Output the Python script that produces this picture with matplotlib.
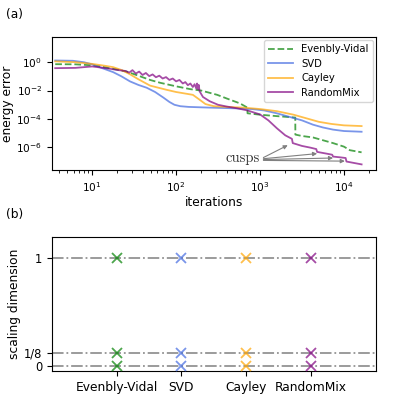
import numpy as np
import matplotlib
matplotlib.use("Agg")
import matplotlib.pyplot as plt
from matplotlib.ticker import NullLocator

# ---------------- data (log10 of iterations, log10 of energy error) ----------------
ev_logit = [0.56, 0.8, 1.0, 1.1, 1.2, 1.3, 1.42, 1.55, 1.69, 1.81, 2.0, 2.17, 2.3, 2.49, 2.6,
            2.76, 2.85, 2.851, 3.0, 3.2, 3.42, 3.421, 3.5, 3.63, 3.75, 3.87, 4.0, 4.07, 4.21]
ev_logerr = [-0.14, -0.15, -0.22, -0.3, -0.42, -0.52, -0.68, -0.95, -1.25, -1.45, -1.7, -1.9, -2.0,
             -2.3, -2.55, -2.9, -3.2, -3.6, -3.7, -3.8, -3.9, -5.1, -5.2, -5.3, -5.5, -5.7, -5.95,
             -6.2, -6.35]

svd_logit = [0.56, 0.77, 0.9, 1.0, 1.12, 1.25, 1.35, 1.45, 1.55, 1.65, 1.75, 1.85, 1.92, 1.98,
             2.05, 2.15, 2.4, 2.7, 2.9, 3.05, 3.2, 3.35, 3.5, 3.63, 3.75, 3.87, 4.0, 4.21]
svd_logerr = [0.12, 0.1, 0.0, -0.15, -0.42, -0.7, -1.0, -1.35, -1.6, -1.8, -2.1, -2.5, -2.8, -3.0,
              -3.1, -3.15, -3.2, -3.25, -3.3, -3.4, -3.6, -3.85, -4.1, -4.4, -4.6, -4.75, -4.85,
              -4.9]

cay_logit = [0.56, 0.8, 1.0, 1.15, 1.25, 1.35, 1.45, 1.55, 1.69, 1.89, 2.0, 2.2, 2.27, 2.35,
             2.45, 2.6, 2.8, 3.0, 3.2, 3.4, 3.55, 3.7, 3.85, 4.0, 4.21]
cay_logerr = [0.06, 0.0, -0.12, -0.25, -0.35, -0.55, -0.85, -1.2, -1.65, -1.95, -2.1, -2.3, -2.6,
              -2.95, -3.1, -3.15, -3.2, -3.3, -3.45, -3.7, -3.95, -4.2, -4.35, -4.45, -4.5]

rm_logit = [0.56, 0.8, 1.0, 1.2, 1.3, 1.40, 1.44, 1.48, 1.52, 1.56, 1.60, 1.64, 1.68, 1.72, 1.76,
            1.80, 1.84, 1.88, 1.92, 1.96, 2.00, 2.04, 2.08, 2.11, 2.14, 2.17, 2.20, 2.22, 2.24,
            2.25, 2.26, 2.27, 2.28, 2.32, 2.4, 2.5, 2.6, 2.73, 2.85, 3.0, 3.1, 3.2, 3.3, 3.38,
            3.39, 3.5, 3.6, 3.67, 3.68, 3.8, 3.86, 3.87, 3.95, 4.02, 4.03, 4.12, 4.21]
rm_logerr = [-0.42, -0.4, -0.3, -0.45, -0.55, -0.62, -0.74, -0.56, -0.8, -0.66, -0.9, -0.76,
             -0.98, -0.86, -1.06, -0.95, -1.15, -1.05, -1.25, -1.15, -1.35, -1.25, -1.5, -1.4,
             -1.62, -1.5, -1.75, -1.55, -1.85, -1.5, -1.9, -1.6, -2.05, -2.45, -2.75, -3.0,
             -3.12, -3.25, -3.4, -3.68, -4.1, -4.65, -5.15, -5.4, -5.7, -5.9, -6.02, -6.12,
             -6.32, -6.45, -6.52, -6.65, -6.7, -6.75, -7.0, -7.1, -7.2]

# cusp arrow tips (iterations, error) and arrow starts
cusp_tip_logit = [3.33, 3.68, 3.87, 4.01]
cusp_tip_logerr = [-5.85, -6.44, -6.75, -6.97]
cusp_start_logerr = [-6.72, -6.8, -6.86, -6.92]

# ---------------- scaling dimensions ----------------
methods = ["Evenbly-Vidal", "SVD", "Cayley", "RandomMix"]
scaling_dims = [[0.0, 0.125, 1.0]] * 4
exact_dims = [0.0, 0.125, 1.0]
exact_labels = ["0", "1/8", "1"]

colors = ["green", "royalblue", "orange", "purple"]
alpha = 0.7

# ---------------- figure ----------------
fig = plt.figure(figsize=(3.99, 4.03), dpi=100)
ax1 = fig.add_axes([0.130, 0.578, 0.812, 0.330])
ax2 = fig.add_axes([0.130, 0.0794, 0.812, 0.3325])

LAB = 8.8
TCK = 7.6

series = [(ev_logit, ev_logerr, "--"), (svd_logit, svd_logerr, "-"),
          (cay_logit, cay_logerr, "-"), (rm_logit, rm_logerr, "-")]
for (lx, ly, ls), c, name in zip(series, colors, methods):
    ax1.plot(10 ** np.array(lx), 10 ** np.array(ly), ls, color=c, alpha=alpha, lw=1.3,
             label=name)

ax1.set_xscale("log")
ax1.set_yscale("log")
ax1.set_xlim(10 ** 0.52, 10 ** 4.38)
ax1.set_ylim(10 ** -7.6, 10 ** 1.77)
ax1.set_yticks([1e0, 1e-2, 1e-4, 1e-6])
ax1.yaxis.set_minor_locator(NullLocator())
ax1.set_xlabel("iterations", fontsize=LAB, labelpad=2)
ax1.set_ylabel("energy error", fontsize=LAB, labelpad=2)
ax1.tick_params(labelsize=TCK)
ax1.legend(loc="upper right", fontsize=7.2, handlelength=2.5, borderaxespad=0.3,
           labelspacing=0.45)

ax1.text(10 ** 3.0, 10 ** -6.76, "cusps", family="cmr10", fontsize=10.5,
         ha="right", va="center", color="#333333")
for tx, ty, sy in zip(cusp_tip_logit, cusp_tip_logerr, cusp_start_logerr):
    ax1.annotate("", xy=(10 ** tx, 10 ** ty), xytext=(10 ** 3.04, 10 ** sy),
                 arrowprops=dict(arrowstyle="-|>", color="gray", lw=0.8,
                                 mutation_scale=6, shrinkA=0, shrinkB=0))

# bottom panel
for d in exact_dims:
    ax2.axhline(d, color="gray", ls="-.", lw=1.3, alpha=0.85, zorder=1)
for i, (vals, c) in enumerate(zip(scaling_dims, colors)):
    ax2.plot([i] * len(vals), vals, "x", color=c, alpha=alpha, ms=7.5, mew=1.3, zorder=3)
ax2.set_xlim(-1, 4)
ax2.set_ylim(-0.045, 1.195)
ax2.set_xticks(range(len(methods)))
ax2.set_xticklabels(methods)
ax2.set_yticks(exact_dims)
ax2.set_yticklabels(exact_labels)
ax2.set_ylabel("scaling dimension", fontsize=LAB, labelpad=2)
ax2.tick_params(axis="x", labelsize=8.8)
ax2.tick_params(axis="y", labelsize=8.3)

fig.text(0.015, 0.963, "(a)", fontsize=LAB, va="center", ha="left")
fig.text(0.015, 0.467, "(b)", fontsize=LAB, va="center", ha="left")

fig.savefig("out.png", dpi=100)
